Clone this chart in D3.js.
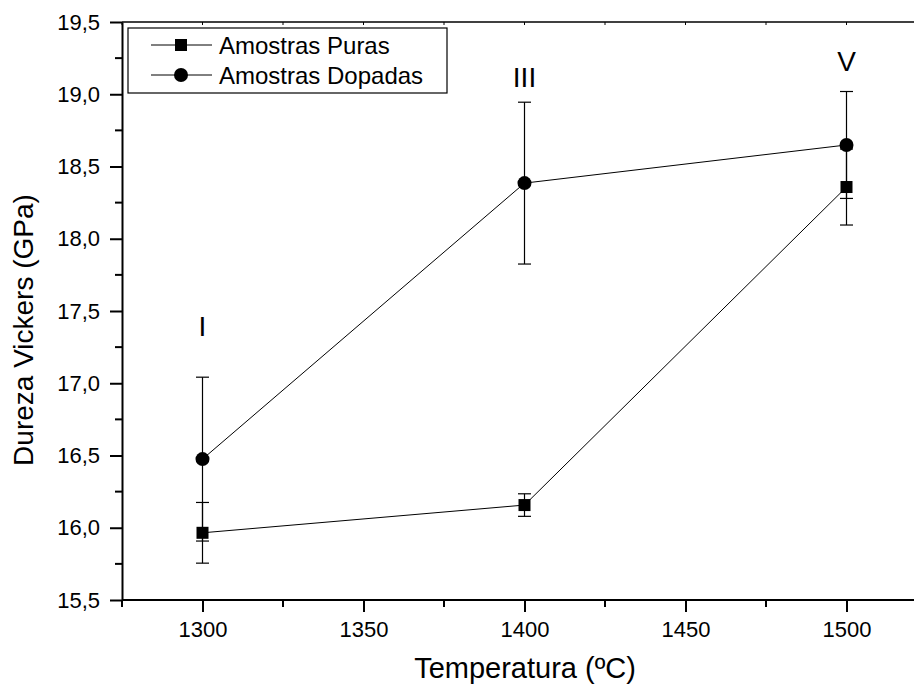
<!DOCTYPE html>
<html><head><meta charset="utf-8">
<script src="https://cdn.jsdelivr.net/npm/d3@7"></script>
<style>body{margin:0;background:#fff}svg{display:block}text{font-family:"Liberation Sans",Arial,sans-serif;fill:#000}</style>
</head><body>
<script>
const temps = [1300, 1400, 1500];
const purasMean = [15.965, 16.157, 18.358];
const purasErr = [0.21, 0.078, 0.263];
const dopadasMean = [16.475, 18.385, 18.649];
const dopadasErr = [0.567, 0.56, 0.37];
const seriesNames = ["Amostras Puras", "Amostras Dopadas"];
const annotText = ["I", "III", "V"];
const annotY = [17.33, 19.05, 19.16];
const xMajorTicks = [1300, 1350, 1400, 1450, 1500];
const xMinorTicks = [1275, 1325, 1375, 1425, 1475, 1525];
const yMajorTicks = [15.5, 16.0, 16.5, 17.0, 17.5, 18.0, 18.5, 19.0, 19.5];
const yMinorTicks = [15.75, 16.25, 16.75, 17.25, 17.75, 18.25, 18.75, 19.25];

const W = 914, H = 688;
const x = d3.scaleLinear().domain([1275, 1525]).range([122, 927]);
const y = d3.scaleLinear().domain([15.5, 19.5]).range([600, 22]);
const fmt = d => d3.format(".1f")(d).replace(".", ",");

const svg = d3.select("body").append("svg").attr("width", W).attr("height", H);

// top frame line with tiny inward ticks
svg.append("line").attr("x1", x(1275)).attr("x2", W).attr("y1", y(19.5)).attr("y2", y(19.5))
  .attr("stroke", "#000").attr("stroke-width", 1.5);
svg.append("g").selectAll("line").data(xMajorTicks.concat(xMinorTicks)).join("line")
  .attr("x1", d => x(d)).attr("x2", d => x(d)).attr("y1", y(19.5)).attr("y2", y(19.5) + 3)
  .attr("stroke", "#000").attr("stroke-width", 1);

// bottom axis
const xAxis = svg.append("g").attr("transform", `translate(0,${y(15.5)})`)
  .call(d3.axisBottom(x).tickValues(xMajorTicks).tickFormat(d3.format("d")).tickSize(12).tickSizeOuter(0).tickPadding(9));
xAxis.select(".domain").attr("stroke-width", 2).attr("d", `M${x(1275)},0H${W}`);
xAxis.selectAll(".tick line").attr("stroke-width", 2);
xAxis.selectAll("text").attr("font-size", 22).attr("font-family", '"Liberation Sans",Arial,sans-serif');
svg.append("g").attr("transform", `translate(0,${y(15.5)})`).selectAll("line").data(xMinorTicks.filter(d => x(d) < W)).join("line")
  .attr("x1", d => x(d)).attr("x2", d => x(d)).attr("y1", 0).attr("y2", 7).attr("stroke", "#000").attr("stroke-width", 2);

// left axis
const yAxis = svg.append("g").attr("transform", `translate(${x(1275)},0)`)
  .call(d3.axisLeft(y).tickValues(yMajorTicks).tickFormat(fmt).tickSize(12).tickSizeOuter(0).tickPadding(10));
yAxis.select(".domain").attr("stroke-width", 2);
yAxis.selectAll(".tick line").attr("stroke-width", 2);
yAxis.selectAll("text").attr("font-size", 22).attr("font-family", '"Liberation Sans",Arial,sans-serif');
svg.append("g").attr("transform", `translate(${x(1275)},0)`).selectAll("line").data(yMinorTicks).join("line")
  .attr("x1", -7).attr("x2", 0).attr("y1", d => y(d)).attr("y2", d => y(d)).attr("stroke", "#000").attr("stroke-width", 2);

// axis titles
svg.append("text").attr("x", 525).attr("y", 678).attr("text-anchor", "middle").attr("font-size", 29).text("Temperatura (ºC)");
svg.append("text").attr("transform", "translate(33,330) rotate(-90)").attr("text-anchor", "middle").attr("font-size", 28).text("Dureza Vickers (GPa)");

const series = [
  {name: seriesNames[0], mean: purasMean, err: purasErr, shape: "square"},
  {name: seriesNames[1], mean: dopadasMean, err: dopadasErr, shape: "circle"}
];
const line = d3.line().x(d => x(d[0])).y(d => y(d[1]));

function marker(g, shape, cx, cy) {
  if (shape === "square") {
    g.append("rect").attr("x", cx - 6).attr("y", cy - 6).attr("width", 12).attr("height", 12).attr("fill", "#000");
  } else {
    g.append("circle").attr("cx", cx).attr("cy", cy).attr("r", 7).attr("fill", "#000");
  }
}

series.forEach(s => {
  const pts = temps.map((t, i) => [t, s.mean[i]]);
  svg.append("path").attr("d", line(pts)).attr("fill", "none").attr("stroke", "#000").attr("stroke-width", 1);
  const g = svg.append("g");
  temps.forEach((t, i) => {
    const cx = x(t), y1 = y(s.mean[i] + s.err[i]), y2 = y(s.mean[i] - s.err[i]);
    g.append("line").attr("x1", cx).attr("x2", cx).attr("y1", y1).attr("y2", y2).attr("stroke", "#000").attr("stroke-width", 1.2);
    [y1, y2].forEach(yy => g.append("line").attr("x1", cx - 6.5).attr("x2", cx + 6.5).attr("y1", yy).attr("y2", yy).attr("stroke", "#000").attr("stroke-width", 1.2));
    marker(g, s.shape, cx, y(s.mean[i]));
  });
});

// annotations
svg.append("g").selectAll("text").data(annotText).join("text")
  .attr("x", (d, i) => x(temps[i])).attr("y", (d, i) => y(annotY[i])).attr("text-anchor", "middle").attr("font-size", 28).text(d => d);

// legend
const lg = svg.append("g");
lg.append("rect").attr("x", 128).attr("y", 28).attr("width", 319).attr("height", 65).attr("fill", "#fff").attr("stroke", "#000").attr("stroke-width", 1.2);
series.forEach((s, i) => {
  const cy = 45 + i * 30;
  lg.append("line").attr("x1", 151).attr("x2", 212).attr("y1", cy).attr("y2", cy).attr("stroke", "#000").attr("stroke-width", 1);
  marker(lg, s.shape, 181, cy);
  lg.append("text").attr("x", 219).attr("y", cy + 8.5).attr("font-size", 24).text(s.name);
});
</script>
</body></html>
